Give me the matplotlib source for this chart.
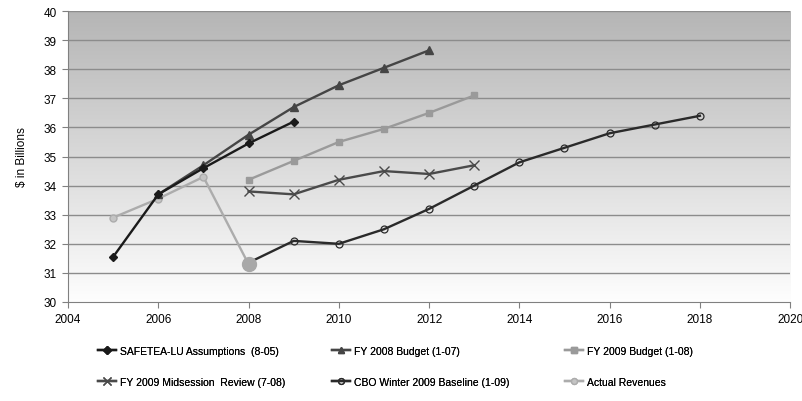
import numpy as np
import matplotlib
matplotlib.use("Agg")
import matplotlib.pyplot as plt

# Revenue projections, $ in billions
safetea_years = [2005, 2006, 2007, 2008, 2009]
safetea_vals = [31.55, 33.7, 34.6, 35.45, 36.2]

fy2008_years = [2006, 2007, 2008, 2009, 2010, 2011, 2012]
fy2008_vals = [33.7, 34.7, 35.75, 36.7, 37.45, 38.05, 38.65]

fy2009_years = [2008, 2009, 2010, 2011, 2012, 2013]
fy2009_vals = [34.2, 34.85, 35.5, 35.95, 36.5, 37.1]

midsession_years = [2008, 2009, 2010, 2011, 2012, 2013]
midsession_vals = [33.8, 33.7, 34.2, 34.5, 34.4, 34.7]

cbo_years = [2008, 2009, 2010, 2011, 2012, 2013, 2014, 2015, 2016, 2017, 2018]
cbo_vals = [31.35, 32.1, 32.0, 32.5, 33.2, 34.0, 34.8, 35.3, 35.8, 36.1, 36.4]

actual_years = [2005, 2006, 2007, 2008]
actual_vals = [32.9, 33.55, 34.3, 31.3]

x_ticks = list(range(2004, 2021, 2))
y_ticks = list(range(30, 41))

plt.rcParams["font.family"] = ["Liberation Sans", "DejaVu Sans"]
plt.rcParams["font.size"] = 8.5

fig = plt.figure(figsize=(8.03, 4.02), dpi=100)
ax = fig.add_axes([0.0847, 0.2463, 0.8993, 0.7237])
ax.set_xlim(2004, 2020)
ax.set_ylim(30, 40)

# vertical gradient background
grad = np.linspace(1.0, 0.0, 256).reshape(-1, 1)
top = np.array([0.71, 0.71, 0.71])
bot = np.array([0.995, 0.995, 0.995])
img = bot + (top - bot) * grad[..., None]
ax.imshow(img, extent=[2004, 2020, 30, 40], aspect="auto", zorder=0, origin="upper")

for y in y_ticks[1:]:
    ax.axhline(y, color="#8c8c8c", lw=1.0, zorder=1)

lines = []
lines.append(ax.plot(safetea_years, safetea_vals, color="#1a1a1a", lw=1.7, marker="D", ms=4.5,
                     label="SAFETEA-LU Assumptions  (8-05)", zorder=5)[0])
lines.append(ax.plot(fy2008_years, fy2008_vals, color="#454545", lw=1.7, marker="^", ms=5.5,
                     label="FY 2008 Budget (1-07)", zorder=4)[0])
lines.append(ax.plot(fy2009_years, fy2009_vals, color="#9a9a9a", lw=1.7, marker="s", ms=4.5,
                     label="FY 2009 Budget (1-08)", zorder=4)[0])
lines.append(ax.plot(midsession_years, midsession_vals, color="#4a4a4a", lw=1.7, marker="x", ms=7.5,
                     mew=1.0, label="FY 2009 Midsession  Review (7-08)", zorder=4)[0])
lines.append(ax.plot(cbo_years, cbo_vals, color="#2a2a2a", lw=1.7, marker="o", ms=5, mfc="none",
                     mew=0.9, label="CBO Winter 2009 Baseline (1-09)", zorder=4)[0])
lines.append(ax.plot(actual_years, actual_vals, color="#acacac", lw=1.7, marker="o", ms=5,
                     mfc="#c4c4c4", label="Actual Revenues", zorder=3)[0])
ax.plot(actual_years[-1], actual_vals[-1], marker="o", ms=10, color="#a8a8a8",
        zorder=6, linestyle="none")

ax.set_xticks(x_ticks)
ax.set_yticks(y_ticks)
ax.tick_params(axis="both", color="#808080", length=4, labelsize=8.5, pad=4)
for s in ["top", "right"]:
    ax.spines[s].set_visible(False)
for s in ["left", "bottom"]:
    ax.spines[s].set_color("#808080")
ax.set_ylabel("$ in Billions", fontsize=8.5, labelpad=11)

# three legend columns, two entries each
col_x = [0.122, 0.414, 0.704]
pairs = [(0, 3), (1, 4), (2, 5)]
for cx, (a, b) in zip(col_x, pairs):
    leg = fig.legend([lines[a], lines[b]], [lines[a].get_label(), lines[b].get_label()],
                     loc="lower left", bbox_to_anchor=(cx, 0.035), frameon=False,
                     fontsize=7.5, handlelength=1.7, handletextpad=0.4,
                     labelspacing=2.0, markerscale=0.85, borderaxespad=0,
                     borderpad=0)
    fig.add_artist(leg)

fig.savefig("out.png", dpi=100)
